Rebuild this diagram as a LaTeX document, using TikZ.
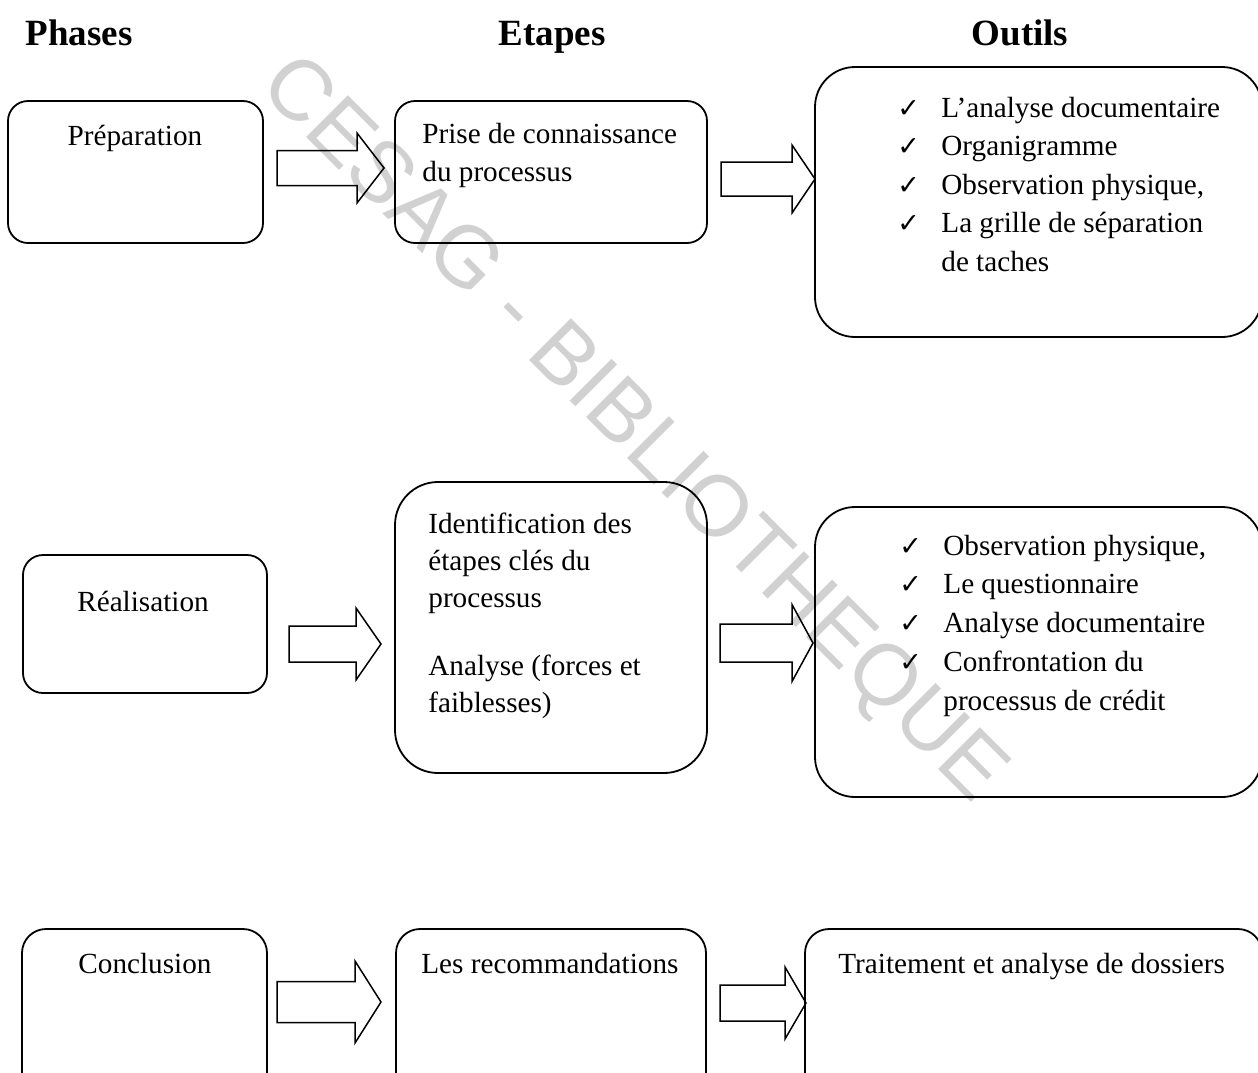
\documentclass[tikz,border=0pt]{standalone}
\usepackage{fontspec}
\setmainfont{Liberation Serif}
\newfontfamily\symfont{DejaVu Sans}
\newfontfamily\wmfont{Liberation Sans}
\newcommand\chk{\makebox[22pt][l]{\symfont\fontsize{13.5}{13.5}\selectfont ✓}}
\newcommand\blockarr[6]{\draw[barrow] (#1,#4-#5) -- (#2,#4-#5) -- (#2,#4-#6) -- (#3,#4) -- (#2,#4+#6) -- (#2,#4+#5) -- (#1,#4+#5) -- cycle;}
\begin{document}
\begin{tikzpicture}[x=0.5pt,y=-0.5pt,
  box/.style={draw, line width=0.9pt, rounded corners=10pt, inner sep=0pt},
  bigbox/.style={box, rounded corners=20pt},
  txt/.style={inner sep=0pt, font=\fontsize{14.6}{19}\selectfont},
  head/.style={inner sep=0pt, font=\bfseries\fontsize{18.5}{22}\selectfont},
  barrow/.style={draw, line width=0.75pt, line join=miter},
  wm/.style={inner sep=0pt, text=black!18, font=\wmfont\fontsize{43}{50}\selectfont}]
\useasboundingbox (0,0) rectangle (1258,1072);
\clip (0,0) rectangle (1258,1072);
% watermark
\node[wm, anchor=base west, rotate=-45] (wmark) at (257,88) {CESAG - BIBLIOTHEQUE};
% headers
\node[head, anchor=base] (h1) at (79,45) {Phases};
\node[head, anchor=base] (h2) at (552,45) {Etapes};
\node[head, anchor=base] (h3) at (1020,45) {Outils};
% row 1
\node[box, minimum width=127.5pt, minimum height=71pt] (b1) at (135.5,172) {};
\node[box, minimum width=156pt, minimum height=71pt] (b2) at (551,172) {};
\node[bigbox, minimum width=223.5pt, minimum height=135pt] (b3) at (1038.5,202) {};
\node[txt, anchor=base] (t1) at (135,145) {Préparation};
\node[txt, anchor=base west] (t2) at (422,143) {\begin{tabular}[t]{@{}l@{}}Prise de connaissance\\du processus\end{tabular}};
\node[txt, anchor=base west, font=\fontsize{14.6}{19.25}\selectfont] (t3) at (897,117) {\begin{tabular}[t]{@{}l@{}l@{}}\chk & L’analyse documentaire\\ \chk & Organigramme\\ \chk & Observation physique,\\ \chk & La grille de séparation\\ & de taches\end{tabular}};
\blockarr{277}{357}{384}{168}{17.5}{35}
\blockarr{721}{792}{815}{179}{17}{34}
% row 2
\node[box, minimum width=122pt, minimum height=69pt] (b4) at (145,624) {};
\node[box, rounded corners=21.5pt, minimum width=156pt, minimum height=145.5pt] (b5) at (551,627.5) {};
\node[bigbox, minimum width=223.5pt, minimum height=145pt] (b6) at (1038.5,652) {};
\node[txt, anchor=base] (t4) at (143,611) {Réalisation};
\node[txt, anchor=base west, font=\fontsize{14.6}{18.5}\selectfont] (t5) at (428,533) {\begin{tabular}[t]{@{}l@{}}Identification des\\étapes clés du\\processus\\[15.5pt]Analyse (forces et\\faiblesses)\end{tabular}};
\node[txt, anchor=base west, font=\fontsize{14.6}{19.4}\selectfont] (t6) at (899,555) {\begin{tabular}[t]{@{}l@{}l@{}}\chk & Observation physique,\\ \chk & Le questionnaire\\ \chk & Analyse documentaire\\ \chk & Confrontation du\\ & processus de crédit\end{tabular}};
\blockarr{289}{356}{381}{644}{18}{36}
\blockarr{720}{792}{813}{643}{19}{38.5}
% row 3
\node[box, rounded corners=12pt, minimum width=122.5pt, minimum height=90.5pt] (b7) at (144.5,1019.5) {};
\node[box, rounded corners=12pt, minimum width=155pt, minimum height=90.5pt] (b8) at (551,1019.5) {};
\node[box, rounded corners=12pt, minimum width=228.5pt, minimum height=90.5pt] (b9) at (1033.5,1019.5) {};
\node[txt, anchor=base] (t7) at (145,973) {Conclusion};
\node[txt, anchor=base west] (t8) at (421,973) {Les recommandations};
\node[txt, anchor=base west] (t9) at (838,973) {Traitement et analyse de dossiers};
\blockarr{277}{355}{381}{1002}{20.5}{41}
\blockarr{720}{785}{806}{1003}{18}{36}
\end{tikzpicture}
\end{document}
